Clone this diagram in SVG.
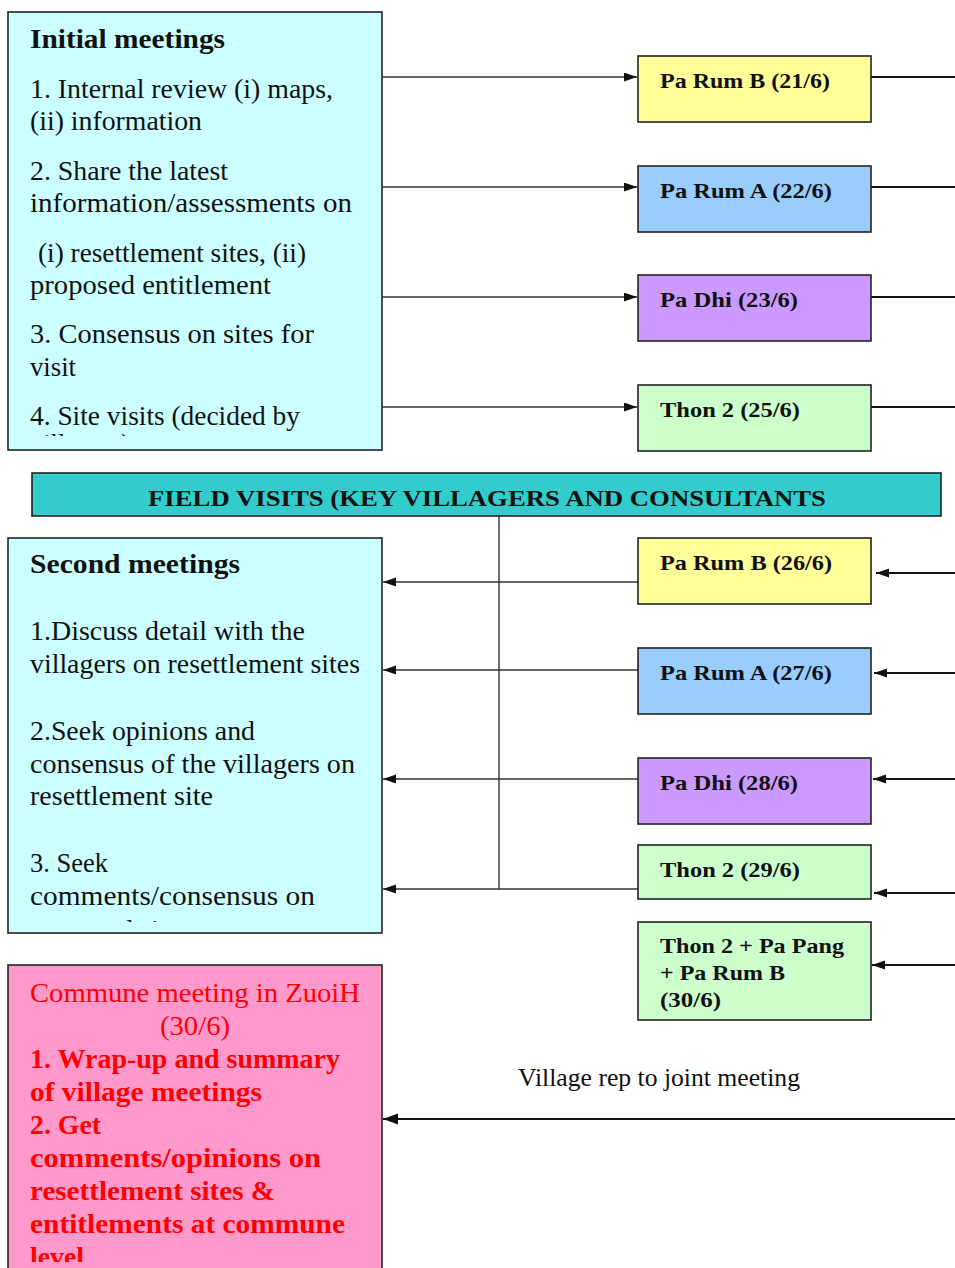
<svg xmlns="http://www.w3.org/2000/svg" width="955" height="1268" viewBox="0 0 955 1268">
<style>
.box{stroke:#222;stroke-width:1.6}
.t{font-family:"Liberation Serif","Times New Roman",serif;font-size:27px;fill:#111}
.b{font-weight:bold}
.n{font-family:"Liberation Serif","Times New Roman",serif;font-size:21px;font-weight:bold;fill:#111}
.red{fill:#FF0000}
.ln{stroke:#333;stroke-width:1.4;fill:none}
.lk{stroke:#111;stroke-width:2;fill:none}
</style>
<defs>
<marker id="ar" markerUnits="userSpaceOnUse" markerWidth="14" markerHeight="10" refX="13" refY="4.5" orient="auto">
<path d="M0,0 L13,4.5 L0,9 z" fill="#111"/>
</marker>
<marker id="arL" markerUnits="userSpaceOnUse" markerWidth="16" markerHeight="12" refX="15" refY="5.5" orient="auto">
<path d="M0,0 L15,5.5 L0,11 z" fill="#111"/>
</marker>
<clipPath id="c1"><rect x="8" y="12" width="374" height="424"/></clipPath>
<clipPath id="c2"><rect x="8" y="538" width="374" height="384"/></clipPath>
<clipPath id="c3"><rect x="8" y="965" width="374" height="297"/></clipPath>
</defs>

<g id="connectors">
<line class="ln" x1="382" y1="77" x2="637" y2="77" marker-end="url(#ar)"/>
<line class="ln" x1="382" y1="187" x2="637" y2="187" marker-end="url(#ar)"/>
<line class="ln" x1="382" y1="297" x2="637" y2="297" marker-end="url(#ar)"/>
<line class="ln" x1="382" y1="407" x2="637" y2="407" marker-end="url(#ar)"/>
<line class="lk" x1="871" y1="77" x2="955" y2="77"/>
<line class="lk" x1="871" y1="187" x2="955" y2="187"/>
<line class="lk" x1="871" y1="297" x2="955" y2="297"/>
<line class="lk" x1="871" y1="407" x2="955" y2="407"/>
<line class="ln" x1="499" y1="516" x2="499" y2="889"/>
<line class="ln" x1="638" y1="582" x2="383" y2="582" marker-end="url(#ar)"/>
<line class="ln" x1="638" y1="670" x2="383" y2="670" marker-end="url(#ar)"/>
<line class="ln" x1="638" y1="779" x2="383" y2="779" marker-end="url(#ar)"/>
<line class="ln" x1="638" y1="889" x2="383" y2="889" marker-end="url(#ar)"/>
<line class="lk" x1="955" y1="573" x2="876" y2="573" marker-end="url(#ar)"/>
<line class="lk" x1="955" y1="673" x2="874" y2="673" marker-end="url(#ar)"/>
<line class="lk" x1="955" y1="779" x2="873" y2="779" marker-end="url(#ar)"/>
<line class="lk" x1="955" y1="893" x2="874" y2="893" marker-end="url(#ar)"/>
<line class="lk" x1="955" y1="965" x2="872" y2="965" marker-end="url(#ar)"/>
<line class="lk" x1="955" y1="1119" x2="383" y2="1119" marker-end="url(#arL)"/>
<text class="t" x="518" y="1086" textLength="282" lengthAdjust="spacingAndGlyphs" style="font-size:25px">Village rep to joint meeting</text>
</g>

<g id="initial-meetings">
<rect class="box" x="8" y="12" width="374" height="438" fill="#CCFFFF"/>
<g clip-path="url(#c1)">
<text class="t b" x="30" y="48" textLength="195" lengthAdjust="spacingAndGlyphs">Initial meetings</text>
<text class="t" x="30" y="98" textLength="303" lengthAdjust="spacingAndGlyphs">1. Internal review (i) maps,</text>
<text class="t" x="30" y="130" textLength="172" lengthAdjust="spacingAndGlyphs">(ii) information</text>
<text class="t" x="30" y="180" textLength="198" lengthAdjust="spacingAndGlyphs">2. Share the latest</text>
<text class="t" x="30" y="212" textLength="322" lengthAdjust="spacingAndGlyphs">information/assessments on</text>
<text class="t" x="38" y="262" textLength="268" lengthAdjust="spacingAndGlyphs">(i) resettlement sites, (ii)</text>
<text class="t" x="30" y="294" textLength="241" lengthAdjust="spacingAndGlyphs">proposed entitlement</text>
<text class="t" x="30" y="343" textLength="284" lengthAdjust="spacingAndGlyphs">3. Consensus on sites for</text>
<text class="t" x="30" y="376" textLength="46" lengthAdjust="spacingAndGlyphs">visit</text>
<text class="t" x="30" y="425" textLength="270" lengthAdjust="spacingAndGlyphs">4. Site visits (decided by</text>
<text class="t" x="30" y="453" textLength="100" lengthAdjust="spacingAndGlyphs">villagers)</text>
</g>
</g>

<g id="pa-rum-b-21">
<rect class="box" x="638" y="56" width="233" height="66" fill="#FFFF99"/>
<text class="n" x="660" y="88" textLength="170" lengthAdjust="spacingAndGlyphs">Pa Rum B (21/6)</text>
</g>
<g id="pa-rum-a-22">
<rect class="box" x="638" y="166" width="233" height="66" fill="#99CCFF"/>
<text class="n" x="660" y="198" textLength="172" lengthAdjust="spacingAndGlyphs">Pa Rum A (22/6)</text>
</g>
<g id="pa-dhi-23">
<rect class="box" x="638" y="275" width="233" height="66" fill="#CC99FF"/>
<text class="n" x="660" y="307" textLength="138" lengthAdjust="spacingAndGlyphs">Pa Dhi (23/6)</text>
</g>
<g id="thon2-25">
<rect class="box" x="638" y="385" width="233" height="66" fill="#CCFFCC"/>
<text class="n" x="660" y="417" textLength="140" lengthAdjust="spacingAndGlyphs">Thon 2 (25/6)</text>
</g>

<g id="field-visits">
<rect class="box" x="32" y="473" width="909" height="43" fill="#33CCCC"/>
<text class="n" x="148" y="506" textLength="678" lengthAdjust="spacingAndGlyphs" style="font-size:23px">FIELD VISITS (KEY VILLAGERS AND CONSULTANTS</text>
</g>

<g id="second-meetings">
<rect class="box" x="8" y="538" width="374" height="395" fill="#CCFFFF"/>
<g clip-path="url(#c2)">
<text class="t b" x="30" y="573" textLength="210" lengthAdjust="spacingAndGlyphs">Second meetings</text>
<text class="t" x="30" y="640" textLength="275" lengthAdjust="spacingAndGlyphs">1.Discuss detail with the</text>
<text class="t" x="30" y="673" textLength="330" lengthAdjust="spacingAndGlyphs">villagers on resettlement sites</text>
<text class="t" x="30" y="740" textLength="225" lengthAdjust="spacingAndGlyphs">2.Seek opinions and</text>
<text class="t" x="30" y="773" textLength="325" lengthAdjust="spacingAndGlyphs">consensus of the villagers on</text>
<text class="t" x="30" y="805" textLength="183" lengthAdjust="spacingAndGlyphs">resettlement site</text>
<text class="t" x="30" y="872" textLength="78" lengthAdjust="spacingAndGlyphs">3. Seek</text>
<text class="t" x="30" y="905" textLength="285" lengthAdjust="spacingAndGlyphs">comments/consensus on</text>
<text class="t" x="30" y="939" textLength="160" lengthAdjust="spacingAndGlyphs">proposed sites</text>
</g>
</g>

<g id="pa-rum-b-26">
<rect class="box" x="638" y="538" width="233" height="66" fill="#FFFF99"/>
<text class="n" x="660" y="570" textLength="172" lengthAdjust="spacingAndGlyphs">Pa Rum B (26/6)</text>
</g>
<g id="pa-rum-a-27">
<rect class="box" x="638" y="648" width="233" height="66" fill="#99CCFF"/>
<text class="n" x="660" y="680" textLength="172" lengthAdjust="spacingAndGlyphs">Pa Rum A (27/6)</text>
</g>
<g id="pa-dhi-28">
<rect class="box" x="638" y="758" width="233" height="66" fill="#CC99FF"/>
<text class="n" x="660" y="790" textLength="138" lengthAdjust="spacingAndGlyphs">Pa Dhi (28/6)</text>
</g>
<g id="thon2-29">
<rect class="box" x="638" y="845" width="233" height="54" fill="#CCFFCC"/>
<text class="n" x="660" y="877" textLength="140" lengthAdjust="spacingAndGlyphs">Thon 2 (29/6)</text>
</g>
<g id="thon2-papang-parumb-30">
<rect class="box" x="638" y="922" width="233" height="98" fill="#CCFFCC"/>
<text class="n" x="660" y="953" textLength="184" lengthAdjust="spacingAndGlyphs">Thon 2 + Pa Pang</text>
<text class="n" x="660" y="980" textLength="125" lengthAdjust="spacingAndGlyphs">+ Pa Rum B</text>
<text class="n" x="660" y="1007" textLength="61" lengthAdjust="spacingAndGlyphs">(30/6)</text>
</g>

<g id="commune-meeting">
<rect class="box" x="8" y="965" width="374" height="320" fill="#FF99CC"/>
<g clip-path="url(#c3)">
<text class="t red" x="195" y="1002" text-anchor="middle" textLength="330" lengthAdjust="spacingAndGlyphs">Commune meeting in ZuoiH</text>
<text class="t red" x="195" y="1035" text-anchor="middle" textLength="70" lengthAdjust="spacingAndGlyphs">(30/6)</text>
<text class="t b red" x="30" y="1068" textLength="310" lengthAdjust="spacingAndGlyphs">1. Wrap-up and summary</text>
<text class="t b red" x="30" y="1101" textLength="232" lengthAdjust="spacingAndGlyphs">of village meetings</text>
<text class="t b red" x="30" y="1134" textLength="71" lengthAdjust="spacingAndGlyphs">2. Get</text>
<text class="t b red" x="30" y="1167" textLength="291" lengthAdjust="spacingAndGlyphs">comments/opinions on</text>
<text class="t b red" x="30" y="1200" textLength="245" lengthAdjust="spacingAndGlyphs">resettlement sites &amp;</text>
<text class="t b red" x="30" y="1233" textLength="315" lengthAdjust="spacingAndGlyphs">entitlements at commune</text>
<text class="t b red" x="30" y="1266" textLength="54" lengthAdjust="spacingAndGlyphs">level</text>
</g>
</g>
</svg>
